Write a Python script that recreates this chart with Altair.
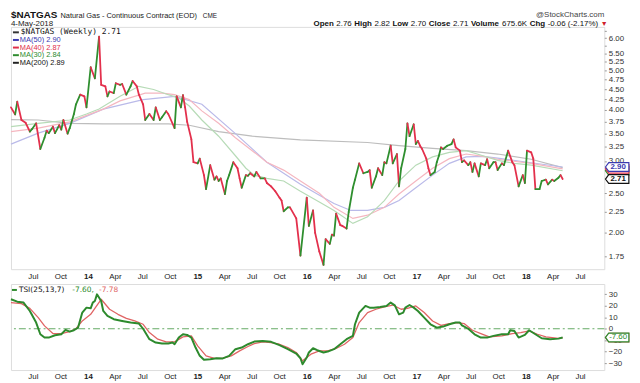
import altair as alt
import numpy as np
import pandas as pd

# ---------------- data (weekly, week number counted from 2013-04-19) ----------------
START = "2013-04-19"

price_week = [0, 2, 3, 5, 7, 9, 10, 12, 14, 16, 17, 18, 20, 21, 23, 24, 25, 27, 28, 30,
              31, 33, 35, 36, 38, 40, 42, 43, 45, 46, 47, 49, 50, 52, 53, 55, 57, 58, 60, 61,
              63, 64, 66, 68, 69, 71, 72, 74, 75, 78, 79, 81, 82, 83, 84, 86, 87, 89, 90, 92,
              93, 95, 97, 98, 99, 100, 102, 103, 104, 106, 108, 109, 110, 112, 113, 114, 116, 117, 119, 121,
              122, 124, 126, 128, 129, 130, 132, 133, 136, 138, 141, 142, 144, 145, 147, 149, 150, 152, 153, 154,
              155, 157, 158, 160, 161, 163, 164, 166, 168, 170, 171, 172, 174, 175, 177, 178, 179, 181, 182, 184,
              185, 186, 188, 189, 190, 192, 193, 194, 195, 196, 198, 199, 200, 202, 203, 204, 205, 206, 208, 210,
              211, 212, 214, 215, 216, 218, 219, 220, 221, 223, 224, 226, 227, 228, 230, 231, 232, 234, 235, 237,
              239, 240, 242, 244, 245, 246, 248, 249, 250, 252, 253, 255, 256, 258, 259, 261, 262, 263]
price_close = [4.06, 3.90, 4.19, 3.78, 3.72, 3.54, 3.59, 3.71, 3.21, 3.42, 3.56, 3.51, 3.64, 3.51, 3.67, 3.58, 3.78, 3.50, 3.61, 3.91,
               4.13, 4.36, 4.32, 4.06, 5.09, 4.78, 6.05, 4.61, 4.57, 4.32, 4.44, 4.40, 4.65, 4.61, 4.63, 4.36, 4.57, 4.71, 4.57, 4.36,
               4.13, 3.78, 3.91, 3.78, 4.06, 3.78, 3.84, 3.97, 3.91, 3.61, 4.32, 4.06, 4.35, 4.06, 3.74, 3.39, 2.98, 2.96, 3.04, 2.77,
               2.56, 2.93, 2.70, 2.75, 2.68, 2.72, 2.49, 2.68, 2.77, 2.98, 2.88, 2.72, 2.58, 2.77, 2.76, 2.80, 2.75, 2.82, 2.72, 2.72,
               2.65, 2.60, 2.53, 2.44, 2.40, 2.26, 2.31, 2.31, 2.17, 1.76, 2.44, 2.08, 2.27, 2.00, 1.80, 1.67, 1.93, 1.88, 1.98, 1.97,
               2.23, 2.09, 2.08, 2.05, 2.25, 2.58, 2.70, 2.96, 2.80, 2.82, 2.85, 2.58, 2.75, 2.88, 2.77, 2.98, 2.96, 3.27, 2.96, 3.12,
               2.60, 2.88, 3.21, 3.71, 3.45, 3.69, 3.30, 3.36, 3.27, 3.21, 3.04, 2.88, 2.77, 2.82, 2.98, 3.09, 3.24, 3.21, 3.27, 3.30,
               3.39, 3.24, 3.18, 2.98, 3.01, 2.93, 2.98, 2.82, 2.96, 2.75, 2.96, 2.93, 3.03, 2.88, 2.98, 2.98, 2.85, 2.96, 2.93, 3.18,
               2.98, 2.93, 2.60, 2.77, 2.65, 3.18, 3.15, 3.04, 2.56, 2.56, 2.68, 2.70, 2.63, 2.70, 2.68, 2.73, 2.77, 2.71]

ma30_week = [0, 13, 28, 36, 42, 52, 61, 68, 75, 80, 85, 91, 99, 107, 112, 116, 122, 130, 138, 147,
             154, 163, 170, 178, 185, 193, 201, 209, 217, 225, 232, 240, 248, 263]
ma30_val = [3.64, 3.71, 3.78, 3.91, 4.02, 4.32, 4.57, 4.49, 4.36, 4.28, 4.09, 3.78, 3.45, 3.09, 2.88, 2.77, 2.72, 2.68, 2.53, 2.38,
            2.27, 2.11, 2.19, 2.40, 2.68, 2.93, 3.07, 3.15, 3.18, 3.09, 3.01, 2.96, 2.93, 2.84]

ma40_week = [0, 13, 28, 44, 52, 64, 72, 78, 85, 91, 99, 107, 115, 122, 130, 138, 147, 154, 163, 170,
             178, 185, 193, 201, 209, 217, 225, 232, 248, 263]
ma40_val = [3.54, 3.61, 3.74, 4.02, 4.21, 4.40, 4.40, 4.36, 4.24, 3.98, 3.71, 3.42, 3.18, 2.98, 2.85, 2.68, 2.50, 2.31, 2.17, 2.21,
            2.31, 2.49, 2.68, 2.88, 3.04, 3.12, 3.08, 3.03, 2.96, 2.87]

ma50_week = [0, 13, 28, 44, 63, 78, 91, 107, 122, 138, 146, 154, 162, 170, 178, 185, 193, 201, 209, 217,
             225, 232, 248, 263]
ma50_val = [3.30, 3.51, 3.71, 4.02, 4.24, 4.32, 4.13, 3.50, 2.98, 2.63, 2.49, 2.36, 2.27, 2.27, 2.31, 2.40, 2.58, 2.77, 2.96, 3.07,
            3.08, 3.05, 2.97, 2.90]

ma200_week = [0, 13, 28, 44, 75, 85, 99, 115, 138, 170, 185, 201, 217, 232, 248, 263]
ma200_val = [3.79, 3.78, 3.71, 3.70, 3.70, 3.67, 3.54, 3.45, 3.38, 3.33, 3.27, 3.22, 3.18, 3.12, 3.03, 2.89]

tsi_week = [0, 3, 6, 9, 12, 14, 16, 18, 21, 24, 26, 28, 30, 32, 34, 36, 38, 39, 40, 41,
            43, 44, 46, 49, 53, 57, 61, 63, 66, 69, 72, 75, 77, 78, 80, 82, 84, 86, 88, 90,
            92, 95, 98, 101, 104, 107, 110, 113, 116, 120, 124, 128, 132, 136, 138, 139, 141, 142, 144, 146,
            149, 151, 154, 157, 160, 163, 164, 166, 169, 171, 173, 176, 179, 181, 183, 185, 187, 188, 190, 192,
            194, 197, 200, 203, 206, 209, 212, 214, 215, 218, 221, 224, 227, 230, 234, 237, 238, 240, 242, 245,
            247, 250, 253, 257, 261, 263]
tsi_val = [25.7, 23.6, 22.8, 15.5, 5.4, -4.8, -7.7, -7.7, -5.7, -4.8, -1.0, -2.5, -1.3, 1.0, 14.1, 18.4, 17.8, 22.8, 24.2, 30.0,
           24.2, 15.5, 11.2, 8.3, 6.8, 5.4, 4.5, 0.0, -9.1, -12.0, -12.9, -12.9, -12.0, -13.5, -7.7, -4.8, -5.4, -7.7, -16.4, -23.6,
           -27.1, -26.5, -25.7, -25.9, -23.6, -17.8, -16.4, -13.5, -11.2, -10.6, -11.4, -14.3, -17.8, -21.6, -25.7, -30.9, -25.1, -20.7, -17.0, -18.7,
           -20.7, -19.9, -17.8, -13.5, -9.1, -6.2, 3.9, 14.1, 19.9, 18.4, 18.4, 19.0, 19.9, 22.8, 20.4, 12.6, 14.1, 18.4, 20.7, 18.4,
           15.5, 9.7, 3.9, 1.0, 1.9, 3.9, 5.4, 5.4, 3.0, 0.0, -4.8, -7.7, -7.7, -6.2, -4.8, -4.8, -1.3, -1.9, -7.7, -5.4,
           -1.3, -4.8, -8.3, -9.1, -8.6, -7.60]

sig_week = [0, 5, 9, 13, 16, 20, 24, 28, 31, 34, 38, 43, 47, 51, 55, 59, 63, 66, 70, 74,
            78, 82, 86, 89, 93, 97, 101, 105, 109, 113, 116, 120, 124, 128, 132, 136, 139, 143, 147, 151,
            155, 159, 163, 166, 170, 174, 178, 182, 186, 189, 193, 197, 201, 205, 209, 213, 216, 220, 224, 228,
            234, 239, 243, 247, 251, 255, 261, 263]
sig_val = [22.8, 21.9, 17.8, 9.7, 2.5, -4.2, -4.2, -2.5, 0.0, 6.8, 12.6, 25.7, 17.0, 12.6, 9.1, 6.8, 3.9, -3.3, -9.1, -11.4,
           -11.4, -7.1, -6.2, -14.9, -23.6, -25.9, -25.7, -23.6, -19.3, -15.5, -12.9, -11.4, -12.0, -13.5, -16.4, -20.7, -28.0, -22.2, -19.3, -19.3,
           -17.2, -13.5, -7.7, 5.4, 14.1, 17.0, 19.0, 20.7, 17.0, 17.8, 19.9, 14.1, 6.8, 3.0, 4.5, 5.4, 4.5, -1.3, -4.2, -7.1,
           -6.2, -4.2, -3.3, -1.9, -4.8, -7.1, -8.3, -7.78]

tick_months = [(2013, 7), (2013, 10), (2014, 1), (2014, 4), (2014, 7), (2014, 10), (2015, 1), (2015, 4),
               (2015, 7), (2015, 10), (2016, 1), (2016, 4), (2016, 7), (2016, 10), (2017, 1), (2017, 4),
               (2017, 7), (2017, 10), (2018, 1), (2018, 4), (2018, 7)]
price_ticks = [6.25, 6.00, 5.75, 5.50, 5.25, 5.00, 4.75, 4.50, 4.25, 4.00, 3.75, 3.50, 3.25, 3.00,
               2.50, 2.25, 2.00, 1.75]
tsi_ticks = [30, 20, 10, 0, -10, -20, -30]

last_series = ["MA30", "MA40", "MA50", "Close"]
last_values = [2.84, 2.87, 2.90, 2.71]
last_labels = ["2.84", "2.87", "2.90", "2.71"]

header_items = [("Open", True), ("2.76", False), ("High", True), ("2.82", False), ("Low", True),
                ("2.70", False), ("Close", True), ("2.71", False), ("Volume", True), ("675.6K", False),
                ("Chg", True), ("-0.06 (-2.17%)", False)]

# ---------------- styles ----------------
MA_COL = {"MA200": "#bdbdbd", "MA50": "#babae9", "MA40": "#f5b7c0", "MA30": "#b7dbb7"}
LAST_COL = {"MA30": "#2e8b2e", "MA40": "#e0304a", "MA50": "#3a3ab0", "Close": "#111111"}
UP, DOWN = "#2f8f2f", "#e3304c"
FONT = "Liberation Sans"
W, H1, H2 = 600, 245, 87


def to_dates(weeks):
    return pd.Timestamp(START) + pd.to_timedelta(np.asarray(weeks) * 7, unit="D")


price = pd.DataFrame({"date": to_dates(price_week), "close": price_close})
seg = price.copy()
seg["date2"] = seg["date"].shift(-1)
seg["close2"] = seg["close"].shift(-1)
seg = seg.dropna()
seg["col"] = np.where(seg["close2"] >= seg["close"], UP, DOWN)

ma = pd.concat([
    pd.DataFrame({"date": to_dates(w), "val": v, "s": s})
    for s, w, v in [("MA200", ma200_week, ma200_val), ("MA50", ma50_week, ma50_val),
                    ("MA40", ma40_week, ma40_val), ("MA30", ma30_week, ma30_val)]
])
ma["col"] = ma["s"].map(MA_COL)

marks_df = pd.DataFrame({"val": last_values, "label": last_labels, "s": last_series})
marks_df["col"] = marks_df["s"].map(LAST_COL)

x_dom = [alt.DateTime(year=2013, month=4, date=19), alt.DateTime(year=2018, month=9, date=20)]
x_axis = alt.Axis(
    title=None, values=[alt.DateTime(year=y, month=m, date=1) for y, m in tick_months],
    labelExpr="month(datum.value) == 0 ? timeFormat(datum.value, '%y') : timeFormat(datum.value, '%b')",
    labelFontWeight=alt.condition("month(datum.value) == 0", alt.value("bold"), alt.value("normal")),
    labelFontSize=8, labelFont=FONT, labelColor="#222", ticks=False, labelPadding=3,
    domain=False, grid=False, labelOverlap=False,
)
xs = alt.Scale(domain=x_dom)

p_scale = alt.Scale(type="log", domain=[1.63, 6.39], nice=False)
p_axis = alt.Axis(title=None, orient="right", values=price_ticks, format=".2f", labelFontSize=8,
                  labelFont=FONT, labelColor="#333", tickSize=2, tickColor="#999", labelPadding=2,
                  domain=False, grid=False)

ma_lines = alt.Chart(ma).mark_line(strokeWidth=1.2).encode(
    x=alt.X("date:T", scale=xs, axis=x_axis),
    y=alt.Y("val:Q", scale=p_scale, axis=p_axis),
    color=alt.Color("col:N", scale=None),
    detail="s:N",
)

price_rules = alt.Chart(seg).mark_rule(strokeWidth=1.8, strokeCap="round").encode(
    x=alt.X("date:T", scale=xs, axis=x_axis),
    x2="date2:T",
    y=alt.Y("close:Q", scale=p_scale, axis=p_axis),
    y2="close2:Q",
    color=alt.Color("col:N", scale=None),
)

box_path = "M-1,0 L-0.72,-0.37 L1,-0.37 L1,0.37 L-0.72,0.37 Z"
boxes = alt.Chart(marks_df).mark_point(shape=box_path, size=560, filled=True, fill="white",
                                        strokeWidth=1.2, opacity=1).encode(
    x=alt.value(W + 13),
    y=alt.Y("val:Q", scale=p_scale, axis=p_axis),
    stroke=alt.Color("col:N", scale=None),
)
box_text = alt.Chart(marks_df[marks_df["s"].isin(["MA50", "Close"])]).mark_text(
    font=FONT, fontSize=8, fontWeight="bold").encode(
    x=alt.value(W + 14),
    y=alt.Y("val:Q", scale=p_scale, axis=p_axis),
    text="label:N",
    color=alt.Color("col:N", scale=None),
)


def txt(s, x, y, size=8, bold=False, color="#222", align="left", font=FONT):
    return alt.Chart(pd.DataFrame({"t": [s]})).mark_text(
        align=align, baseline="middle", font=font, fontSize=size,
        fontWeight="bold" if bold else "normal", color=color).encode(
        x=alt.value(x), y=alt.value(y), text="t:N")


def dash(x1, x2, y, color):
    return alt.Chart(pd.DataFrame({"t": [0]})).mark_rule(strokeWidth=2, color=color).encode(
        x=alt.value(x1), x2=alt.value(x2), y=alt.value(y))


# approximate Arial advance widths (per 1000 em) to lay out the mixed-weight header line
_REG = {"0": 556, "1": 556, "2": 556, "3": 556, "4": 556, "5": 556, "6": 556, "7": 556, "8": 556, "9": 556,
        ".": 278, "-": 333, "(": 333, ")": 333, "%": 889, " ": 278, "K": 667}
_BOLD = {"O": 778, "p": 611, "e": 556, "n": 611, "H": 722, "i": 278, "g": 611, "h": 611, "L": 611, "o": 611,
         "w": 778, "C": 722, "l": 278, "s": 556, "V": 667, "u": 611, "m": 889}


def text_width(s, bold, size):
    table = _BOLD if bold else _REG
    return sum(table.get(c, 556) for c in s) * size / 1000.0


L1, L2 = -11.5, -2.5
header = [
    txt("$NATGAS", 0, L1, size=10, bold=True, color="#111"),
    txt("Natural Gas - Continuous Contract (EOD)", 50, L1, size=7.5),
    txt("CME", 194, L1, size=6.5),
    txt("@StockCharts.com", W, L1 - 0.5, size=8, color="#444", align="right"),
    txt("4-May-2018", 0, L2, size=8),
]
hx = 306.0
for s, b in header_items:
    header.append(txt(s, hx, L2, size=8, bold=b, color="#111"))
    hx += text_width(s, b, 8) + 2.6
header.append(txt("▼", hx, L2, size=7, color="#d0202a"))

leg_y = [5.5, 13.2, 20.9, 28.6, 36.3]
legend = [
    dash(2, 8, leg_y[0], "#333"), txt("$NATGAS (Weekly) 2.71", 10, leg_y[0], size=8, color="#111", font="DejaVu Sans Mono"),
    dash(2, 8, leg_y[1], "#3a3ab0"), txt("MA(50) 2.90", 9, leg_y[1], size=7.5, color="#3a3ab0"),
    dash(2, 8, leg_y[2], "#e0304a"), txt("MA(40) 2.87", 9, leg_y[2], size=7.5, color="#e0304a"),
    dash(2, 8, leg_y[3], "#2e8b2e"), txt("MA(30) 2.84", 9, leg_y[3], size=7.5, color="#2e8b2e"),
    dash(2, 8, leg_y[4], "#222"), txt("MA(200) 2.89", 9, leg_y[4], size=7.5, color="#111"),
]

main = alt.layer(ma_lines, price_rules, boxes, box_text, *header, *legend).properties(width=W, height=H1)

# ---------------- TSI panel ----------------
t_scale = alt.Scale(domain=[-36, 39], nice=False)
t_axis = alt.Axis(title=None, orient="right", values=tsi_ticks, labelFontSize=8, labelFont=FONT,
                  labelColor="#333", tickSize=2, tickColor="#999", labelPadding=2, domain=False, grid=False)

zero = alt.Chart(pd.DataFrame({"z": [0]})).mark_rule(color="#66aa66", strokeWidth=1.2,
                                                      strokeDash=[7, 3, 2, 3]).encode(
    y=alt.Y("z:Q", scale=t_scale, axis=t_axis))
sig_line = alt.Chart(pd.DataFrame({"date": to_dates(sig_week), "val": sig_val})).mark_line(
    color="#e06464", strokeWidth=1.3, strokeJoin="round").encode(
    x=alt.X("date:T", scale=xs, axis=x_axis), y=alt.Y("val:Q", scale=t_scale, axis=t_axis))
tsi_line = alt.Chart(pd.DataFrame({"date": to_dates(tsi_week), "val": tsi_val})).mark_line(
    color="#2d8a2d", strokeWidth=2, strokeJoin="round").encode(
    x=alt.X("date:T", scale=xs, axis=x_axis), y=alt.Y("val:Q", scale=t_scale, axis=t_axis))

tsi_last = pd.DataFrame({"val": [sig_val[-1], tsi_val[-1]], "label": ["-7.78", "-7.60"],
                         "col": ["#e06464", "#2d8a2d"]})
tsi_box = alt.Chart(tsi_last).mark_point(shape=box_path, size=560, filled=True, fill="white",
                                          strokeWidth=1.2, opacity=1).encode(
    x=alt.value(W + 13), y=alt.Y("val:Q", scale=t_scale, axis=t_axis), stroke=alt.Color("col:N", scale=None))
tsi_box_text = alt.Chart(tsi_last.iloc[[1]]).mark_text(font=FONT, fontSize=8).encode(
    x=alt.value(W + 14), y=alt.Y("val:Q", scale=t_scale, axis=t_axis), text="label:N",
    color=alt.Color("col:N", scale=None))

tsi_legend = [
    dash(1, 6, 6, "#2d8a2d"),
    txt("TSI(25,13,7)", 8, 6, size=7.5, color="#111", font="DejaVu Sans"),
    txt("-7.60,", 62, 6, size=7.5, color="#2d8a2d", font="DejaVu Sans"),
    txt("-7.78", 89, 6, size=7.5, color="#e06464", font="DejaVu Sans"),
]

lower = alt.layer(zero, sig_line, tsi_line, tsi_box, tsi_box_text, *tsi_legend).properties(width=W, height=H2)

chart = alt.vconcat(main, lower, spacing=2).properties(
    padding={"left": 0, "top": 0, "right": 0, "bottom": 0}
).configure_view(stroke="#b5b5b5", strokeWidth=1).configure(background="white")

chart.save("out.html", embed_options={"renderer": "svg", "actions": False})
